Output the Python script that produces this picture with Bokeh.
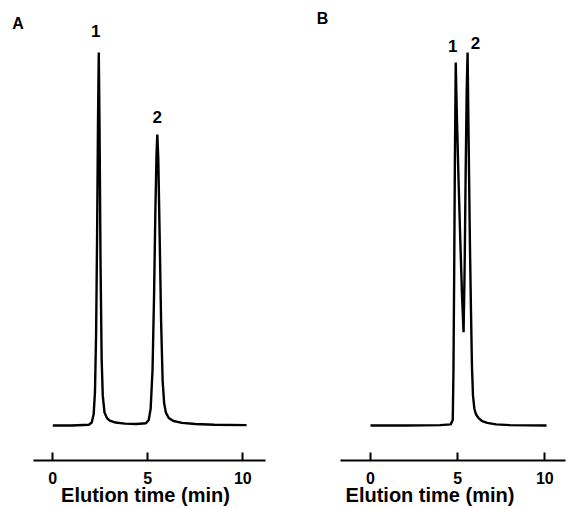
from bokeh.plotting import figure
from bokeh.layouts import row
from bokeh.models import ColumnDataSource, FixedTicker, Range1d, Label
from bokeh.embed import file_html
from bokeh.resources import INLINE
from bokeh.core.properties import value

# ---------------- data ----------------
# Panel A: two well-separated peaks
a_time = [0.0, 1.0, 1.9, 2.05, 2.15, 2.22, 2.28, 2.33, 2.38, 2.42, 2.46, 2.51, 2.57,
          2.63, 2.72, 2.85, 3.0, 3.3, 3.8, 4.4, 4.9, 5.05, 5.15, 5.25, 5.33, 5.4,
          5.46, 5.5, 5.55, 5.62, 5.7, 5.78, 5.86, 5.95, 6.1, 6.35, 6.8, 7.5, 8.5, 10.2]
a_signal = [0.0, 0.0, 0.2, 0.8, 3.0, 9.0, 25.0, 50.0, 82.0, 100.0, 80.0, 45.0, 18.0,
            8.0, 3.5, 2.0, 1.3, 0.8, 0.5, 0.4, 0.6, 1.5, 4.5, 15.0, 35.0, 58.0,
            73.0, 78.0, 72.0, 52.0, 28.0, 12.0, 6.0, 3.5, 2.0, 1.2, 0.7, 0.4, 0.2, 0.1]
a_peak_time = [2.42, 5.5]
a_peak_height = [100.0, 78.0]
a_peak_label = ["1", "2"]

# Panel B: two overlapping peaks
b_time = [0.0, 2.0, 4.0, 4.6, 4.72, 4.76, 4.8, 4.84, 4.89, 4.95, 5.05, 5.15, 5.25,
          5.34, 5.4, 5.46, 5.52, 5.57, 5.62, 5.7, 5.76, 5.82, 5.88, 5.96, 6.05, 6.2,
          6.4, 6.7, 7.2, 8.0, 10.1]
b_signal = [0.0, 0.0, 0.1, 0.3, 1.5, 15.0, 40.0, 70.0, 97.3, 84.0, 66.0, 50.0, 35.0,
            25.0, 42.0, 68.0, 90.0, 100.0, 80.0, 50.0, 32.0, 16.0, 8.0, 4.5, 3.0, 2.0,
            1.2, 0.7, 0.3, 0.1, 0.0]
b_peak_time = [4.89, 5.57]
b_peak_height = [97.3, 100.0]
b_peak_label = ["1", "2"]

tick_values = [0, 5, 10]
axis_title = "Elution time (min)"
panel_names = ["A", "B"]

FONT = "Liberation Sans"
PX_PER_UNIT = 3.73


def make_panel(width, x_start, x_end, bounds, times, signal, ptime, pheight,
               plabel, xoffs, yoffs, name, name_x, name_y):
    frame_bottom = 460.0
    y_end = 100.0 + 52.0 / PX_PER_UNIT
    y_start = -(frame_bottom - 425.0) / PX_PER_UNIT
    p = figure(width=width, height=509, output_backend="svg", toolbar_location=None,
               x_range=Range1d(x_start, x_end), y_range=Range1d(y_start, y_end),
               y_axis_location=None, min_border_left=0, min_border_right=0,
               min_border_top=0, min_border_bottom=49)
    p.outline_line_color = None
    p.grid.visible = False
    p.background_fill_color = "white"
    p.border_fill_color = "white"

    src = ColumnDataSource(dict(t=times, s=signal))
    p.line("t", "s", source=src, line_color="black", line_width=2.4)

    lsrc = ColumnDataSource(dict(t=ptime, s=pheight, lab=plabel, xo=xoffs, yo=yoffs))
    p.text("t", "s", text="lab", source=lsrc, x_offset="xo", y_offset="yo",
           text_font=value(FONT), text_font_style="bold", text_font_size="17px",
           text_align="center", text_baseline="middle", text_color="black")

    p.add_layout(Label(x=name_x, y=name_y, text=name, text_font=FONT,
                       text_font_style="bold", text_font_size="16px",
                       text_align="center", text_baseline="middle",
                       text_color="black"))

    ax = p.xaxis[0]
    ax.bounds = bounds
    ax.ticker = FixedTicker(ticks=tick_values)
    ax.minor_tick_line_color = None
    ax.major_tick_in = 8
    ax.major_tick_out = 0
    ax.major_tick_line_width = 2
    ax.major_tick_line_color = "black"
    ax.axis_line_width = 2
    ax.axis_line_color = "black"
    ax.major_label_text_font = FONT
    ax.major_label_text_font_style = "bold"
    ax.major_label_text_font_size = "16px"
    ax.major_label_text_color = "black"
    ax.major_label_standoff = 11
    ax.axis_label = axis_title
    ax.axis_label_text_font = FONT
    ax.axis_label_text_font_style = "bold"
    ax.axis_label_text_font_size = "20px"
    ax.axis_label_text_color = "black"
    ax.axis_label_standoff = -3
    return p


pa = make_panel(290, (0 - 52.3) / 19.0, (290 - 52.3) / 19.0,
                ((32.7 - 52.3) / 19.0, (265 - 52.3) / 19.0),
                a_time, a_signal, a_peak_time, a_peak_height, a_peak_label,
                [-3, 0], [-22, -18], panel_names[0],
                (17.5 - 52.3) / 19.0, (425 - 23) / PX_PER_UNIT)

pb = make_panel(279, (0 - 80.0) / 17.43, (279 - 80.0) / 17.43,
                ((50 - 80.0) / 17.43, (275 - 80.0) / 17.43),
                b_time, b_signal, b_peak_time, b_peak_height, b_peak_label,
                [-3, 8], [-17, -10], panel_names[1],
                (32 - 80.0) / 17.43, (425 - 18) / PX_PER_UNIT)

layout = row(pa, pb)
open("out.html", "w").write(file_html(layout, INLINE))
